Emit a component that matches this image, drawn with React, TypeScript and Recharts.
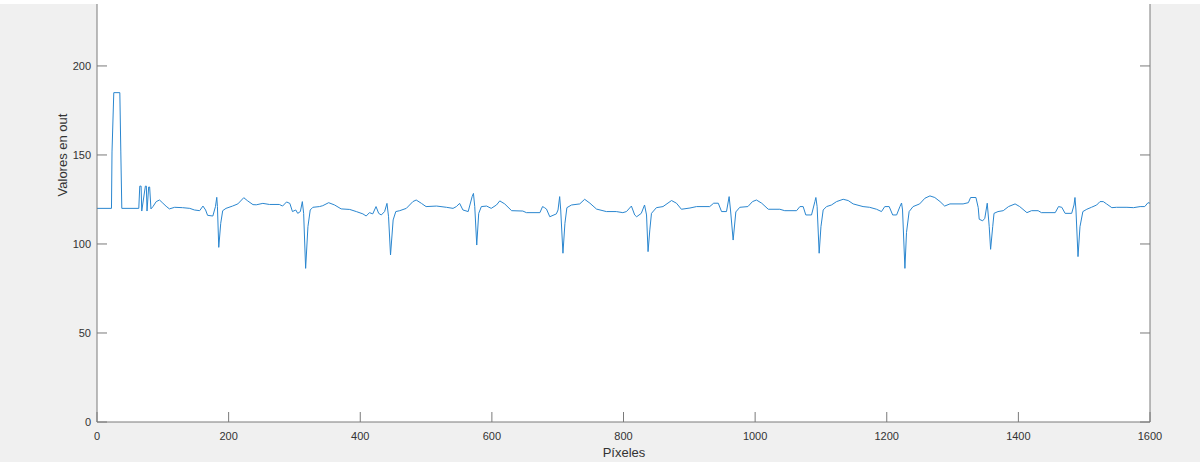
import React from 'react'
import { LineChart, Line, XAxis, YAxis, CartesianGrid } from 'recharts'

// sample index (pixel) and the value of "out"
const pixel = [
  0, 22, 22.8, 25.5, 34.7, 36.2, 37.7, 63.5, 65, 67, 68, 73.5, 75, 76, 78.5, 80, 82,
  85, 90, 95, 99, 105, 110, 118, 130, 141, 148, 156, 161, 165, 168, 176, 180, 182, 183,
  185, 188, 191, 196, 206, 214, 223, 229, 237, 242, 252, 262, 277, 282, 288, 293, 297,
  302, 305, 309, 312, 314, 317, 320.5, 324, 328, 338, 343, 352, 361, 371, 384, 394, 404,
  409, 414, 419, 424, 428, 432, 437, 440.6, 443, 446, 450, 454, 460, 470, 480, 485, 493,
  500, 516, 531, 541, 546, 551, 556, 564, 570, 572, 574, 577, 580, 584, 592, 599, 607,
  612, 619.5, 630, 647, 652.5, 673, 677, 680, 683, 688, 698, 700.5, 703, 704.6, 708, 711,
  714, 721, 733.5, 741, 749, 759, 774, 789, 799, 804.5, 812, 817, 820, 827, 832, 835,
  837.3, 840, 842.5, 850, 860, 873, 880.5, 888, 901, 911, 931, 937, 944, 949, 956.5,
  960.5, 962.6, 966.6, 970.7, 976.7, 989, 996, 1002, 1010, 1020, 1037.5, 1045, 1063,
  1068, 1073, 1077, 1085.7, 1090.8, 1092.3, 1094.2, 1097.3, 1100, 1103.4, 1108.5, 1116,
  1123.7, 1133.8, 1141.4, 1149, 1164, 1174, 1184.5, 1192, 1197, 1203.7, 1209, 1215,
  1220, 1222.5, 1224, 1227.6, 1230, 1234, 1240, 1250, 1258, 1265.6, 1273, 1281, 1288,
  1296, 1316, 1324, 1327.4, 1335.5, 1339, 1340.5, 1345.7, 1349, 1352.7, 1355.7, 1357.8,
  1361, 1363, 1369, 1377, 1385, 1395, 1402, 1413, 1420, 1430, 1435, 1456, 1461, 1466,
  1471, 1481, 1484.5, 1486, 1487.5, 1490.6, 1493.6, 1498, 1504, 1511, 1519, 1524, 1529,
  1534, 1542, 1549, 1565, 1575, 1585, 1592, 1597, 1600,
]

const outValues = [
  120, 120, 151.7, 185, 185, 151.7, 120, 120, 132.5, 132.5, 118.5, 132.5, 132.5, 118.5, 132, 132, 119.7,
  121, 123.8, 124.7, 123.3, 121.2, 119.7, 120.6, 120.4, 120, 119.1, 118.7, 121.3, 119.1, 116.1, 115.7, 121, 126.2, 121,
  98.1, 111.6, 118.7, 120, 121.3, 122.5, 126, 124.2, 122.1, 122, 122.8, 122.2, 122.2, 121.3, 123.6, 122.8, 118.2,
  119.1, 117.2, 118.2, 123.8, 117.2, 86.3, 109.7, 119.1, 120.6, 121, 121.5, 123.2, 121.9, 119.7, 119.4, 118.2, 116.9,
  115.7, 117.6, 116.9, 121, 117.2, 116.3, 118.2, 122.8, 115.3, 93.8, 113.5, 118.2, 118.7, 120, 123.8, 124.7, 122.8,
  121, 121.3, 120.6, 120, 121, 122.8, 119.1, 118.2, 126.6, 128.4, 121, 99.4, 117.2, 121, 121.3, 120, 121.9,
  124.2, 122.5, 118.7, 118.5, 117.6, 117.6, 121, 120.4, 119.6, 115.3, 116.9, 119.1, 126.6, 119.1, 94.8, 111.6,
  120.4, 121.9, 122.5, 125.1, 122.9, 119.6, 118.2, 118.2, 117.6, 118.2, 121.3, 116.3, 115.3, 117.2, 121.9, 116.3,
  95.7, 107.9, 117.2, 120.4, 121, 124.4, 122.9, 119.5, 120.2, 121, 121, 122.9, 122.9, 118.2, 118.2,
  126.6, 119.1, 102.2, 118, 120.6, 121, 123.8, 124.7, 122.9, 119.5, 119.5, 118.7, 118.7,
  121, 121, 116.3, 116.3, 123.8, 126.1, 121, 94.8, 109.7, 119.1, 121, 121.9,
  123.8, 125.1, 124.4, 122.5, 121, 120.6, 119.5, 118.2, 121, 121, 116.3, 116.3,
  121, 123, 119.1, 86.3, 106.4, 118.2, 121, 122.5, 125.7, 127, 126.1, 123.8, 121.3,
  122.5, 122.5, 123.2, 126.1, 126.1, 120.4, 113.9, 113, 114.4, 122.9, 109.7, 97,
  109.7, 117.2, 118.2, 118.7, 121, 122.5, 121, 117.6, 118.7, 118.7, 117.6, 117.6, 121, 120.6,
  117.2, 117.2, 121.9, 126.1, 119.1, 92.9, 109.7, 118.2, 119.5, 120.6, 121.9, 123.8, 123.8,
  122.5, 120.4, 120.6, 120.6, 120.4, 121, 121, 123.2, 122.9,
]

const xTicks = [0, 200, 400, 600, 800, 1000, 1200, 1400, 1600]
const yTicks = [0, 50, 100, 150, 200]

const data = pixel.map((x, i) => ({ x, out: outValues[i] }))

const axisColor = '#7a7a7a'
const textColor = '#333333'
const font = '"Liberation Sans", Arial, sans-serif'

const LeftTick = ({ x, y, payload }: any) => (
  <g>
    <line x1={x} x2={x + 10} y1={y} y2={y} stroke={axisColor} strokeWidth={1} />
    <text x={x - 6} y={y + 4} textAnchor="end" fontSize={11} fill={textColor} fontFamily={font}>
      {payload.value}
    </text>
  </g>
)

const RightTick = ({ x, y }: any) => (
  <line x1={x} x2={x - 10} y1={y} y2={y} stroke={axisColor} strokeWidth={1} />
)

const BottomTick = ({ x, y, payload }: any) => (
  <g>
    <line x1={x} x2={x} y1={y} y2={y - 10} stroke={axisColor} strokeWidth={1} />
    <text x={x} y={y + 18} textAnchor="middle" fontSize={11} fill={textColor} fontFamily={font}>
      {payload.value}
    </text>
  </g>
)

export default function App() {
  return (
    <div
      style={{
        position: 'absolute',
        left: 0,
        top: 0,
        width: 1200,
        height: 462,
        background: '#f0f0f0',
        overflow: 'hidden',
      }}
    >
      <div style={{ position: 'absolute', left: 0, top: 0, width: 1200, height: 4, background: '#fff' }} />
      <LineChart width={1200} height={462} data={data} margin={{ top: 4, right: 0, bottom: 0, left: 0 }}>
        <CartesianGrid horizontal={false} vertical={false} fill="#ffffff" yAxisId="left" />
        <XAxis
          dataKey="x"
          type="number"
          domain={[0, 1600]}
          ticks={xTicks}
          height={40}
          tickSize={0}
          tickMargin={0}
          axisLine={{ stroke: axisColor }}
          tick={<BottomTick />}
          interval={0}
        />
        <YAxis
          yAxisId="left"
          type="number"
          domain={[0, 234.8]}
          ticks={yTicks}
          width={97}
          tickSize={0}
          tickMargin={0}
          axisLine={{ stroke: axisColor }}
          tick={<LeftTick />}
          interval={0}
          allowDataOverflow
        />
        <YAxis
          yAxisId="right"
          orientation="right"
          type="number"
          domain={[0, 234.8]}
          ticks={yTicks}
          width={50}
          tickSize={0}
          tickMargin={0}
          axisLine={{ stroke: axisColor }}
          tick={<RightTick />}
          interval={0}
          allowDataOverflow
        />
        <Line
          yAxisId="left"
          dataKey="out"
          type="linear"
          stroke="#2a86cf"
          strokeWidth={1}
          dot={false}
          isAnimationActive={false}
        />
      </LineChart>
      <div
        style={{
          position: 'absolute',
          left: 62,
          top: 155,
          transform: 'translate(-50%, -50%) rotate(-90deg)',
          fontFamily: font,
          fontSize: 13,
          color: textColor,
          whiteSpace: 'nowrap',
        }}
      >
        Valores en out
      </div>
      <div
        style={{
          position: 'absolute',
          left: 624,
          top: 452,
          transform: 'translate(-50%, -50%)',
          fontFamily: font,
          fontSize: 13,
          color: textColor,
          whiteSpace: 'nowrap',
        }}
      >
        Píxeles
      </div>
    </div>
  )
}
